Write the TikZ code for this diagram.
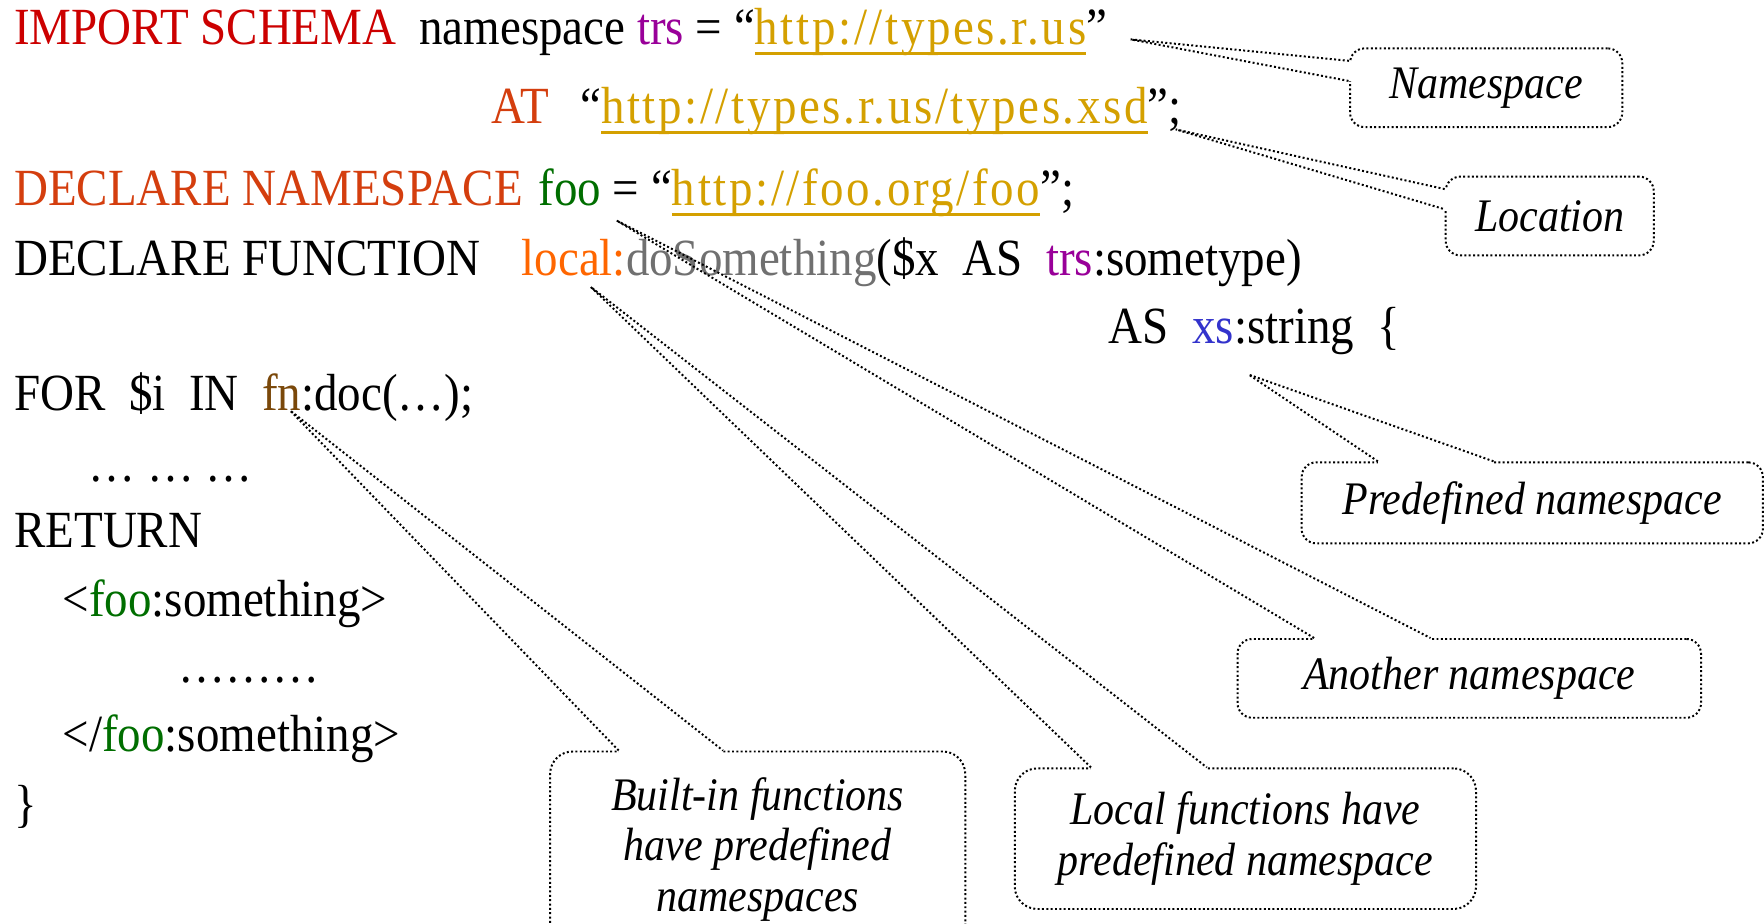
\documentclass[tikz,border=0pt]{standalone}
\usepackage{fontspec}
\setmainfont[FakeStretch=0.9]{Liberation Serif}
\usetikzlibrary{calc}

\definecolor{kwred}{RGB}{204,0,0}
\definecolor{kworange}{RGB}{212,62,14}
\definecolor{trscol}{RGB}{153,0,153}
\definecolor{linkcol}{RGB}{212,160,0}
\definecolor{foocol}{RGB}{0,110,0}
\definecolor{localcol}{RGB}{255,102,0}
\definecolor{dogray}{RGB}{112,112,112}
\definecolor{xscol}{RGB}{51,51,204}
\definecolor{fncol}{RGB}{122,72,10}

\newcommand{\weblink}[1]{{\color{linkcol}\addfontfeature{LetterSpace=5}\setbox0\hbox{#1}\rlap{\rule[-2.6pt]{\wd0}{0.8pt}}\box0}}

\tikzset{
    code/.style={anchor=base west, inner sep=0pt, font=\fontsize{13.2pt}{15pt}\selectfont},
    note/.style={draw, line width=0.5pt, dash pattern=on 0.5pt off 0.6pt, rounded corners=0.13cm,
        align=center, font=\fontsize{11.8pt}{12.8pt}\selectfont\itshape},
    note line/.style={line width=0.5pt, dash pattern=on 0.5pt off 0.6pt}
}

\begin{document}
\begin{tikzpicture}
    \useasboundingbox (0,0) rectangle (15.68,-8.21);

    % Query text
    \node[code, text=kwred] (imp) at (0.12,-0.40) {IMPORT SCHEMA};
    \node[code] (nsp) at (3.72,-0.40) {namespace\ \textcolor{trscol}{trs} = “\weblink{http://types.r.us}”};
    \node[code, text=kworange] (at) at (4.36,-1.10) {AT};
    \node[code] (xsd) at (5.15,-1.10) {“\weblink{http://types.r.us/types.xsd}”;};
    \node[code, text=kworange] (decns) at (0.12,-1.83) {DECLARE NAMESPACE};
    \node[code] (foo) at (4.78,-1.83) {\textcolor{foocol}{foo} = “\weblink{http://foo.org/foo}”;};
    \node[code] (decfn) at (0.12,-2.45) {DECLARE FUNCTION};
    \node[code] (fun) at (4.63,-2.45) {\textcolor{localcol}{local:}\textcolor{dogray}{doSomething}(\$x\ \ AS\ \ \textcolor{trscol}{trs}:sometype)};
    \node[code] (ret) at (9.85,-3.05) {AS\ \ \textcolor{xscol}{xs}:string\ \ \{};
    \node[code] (for) at (0.12,-3.65) {FOR\ \ \$i\ \ IN\ \ \textcolor{fncol}{fn}:doc(…);};
    \node[code] (dots) at (0.78,-4.28) {…\ …\ …};
    \node[code] (return) at (0.12,-4.87) {RETURN};
    \node[code] (open) at (0.55,-5.48) {<\textcolor{foocol}{foo}:something>};
    \node[code] (body) at (1.58,-6.07) {………};
    \node[code] (close) at (0.55,-6.68) {</\textcolor{foocol}{foo}:something>};
    \node[code] (brace) at (0.12,-7.30) {\}};

    % Callout tips
    \coordinate (tipNs) at (10.05,-0.35);
    \coordinate (tipLoc) at (10.45,-1.15);
    \coordinate (tipPre) at (11.10,-3.33);
    \coordinate (tipFoo) at (5.48,-1.96);
    \coordinate (tipLocal) at (5.25,-2.55);
    \coordinate (tipFn) at (2.58,-3.65);

    % Callout boxes
    \node[note, minimum width=2.42cm, minimum height=0.70cm] (ns) at (13.21,-0.78) {Namespace};
    \node[note, minimum width=1.85cm, minimum height=0.70cm] (loc) at (13.775,-1.92) {Location};
    \node[note, minimum width=4.10cm, minimum height=0.72cm] (pre) at (13.62,-4.47) {Predefined namespace};
    \node[note, minimum width=4.12cm, minimum height=0.70cm] (ano) at (13.06,-6.03) {Another namespace};
    \node[note, minimum width=4.10cm, minimum height=1.25cm, rounded corners=0.2cm] (lfn) at (11.07,-7.455)
        {Local functions have\\predefined namespace};
    \node[note, minimum width=3.69cm, minimum height=1.74cm, rounded corners=0.2cm] (bif) at (6.735,-7.55)
        {Built-in functions\\have predefined\\namespaces};

    % Wedges
    \foreach \nm/\tip/\far in {ns/tipNs/south west, loc/tipLoc/south west, pre/tipPre/north east,
            ano/tipFoo/north east, lfn/tipLocal/north east, bif/tipFn/north east} {
        \draw[white, line width=1.4pt] ($(\nm.north west)!0.1667!(\nm.\far)$) -- ($(\nm.north west)!0.4167!(\nm.\far)$);
        \draw[note line] ($(\nm.north west)!0.1667!(\nm.\far)$) -- (\tip) -- ($(\nm.north west)!0.4167!(\nm.\far)$);
    }
\end{tikzpicture}
\end{document}
